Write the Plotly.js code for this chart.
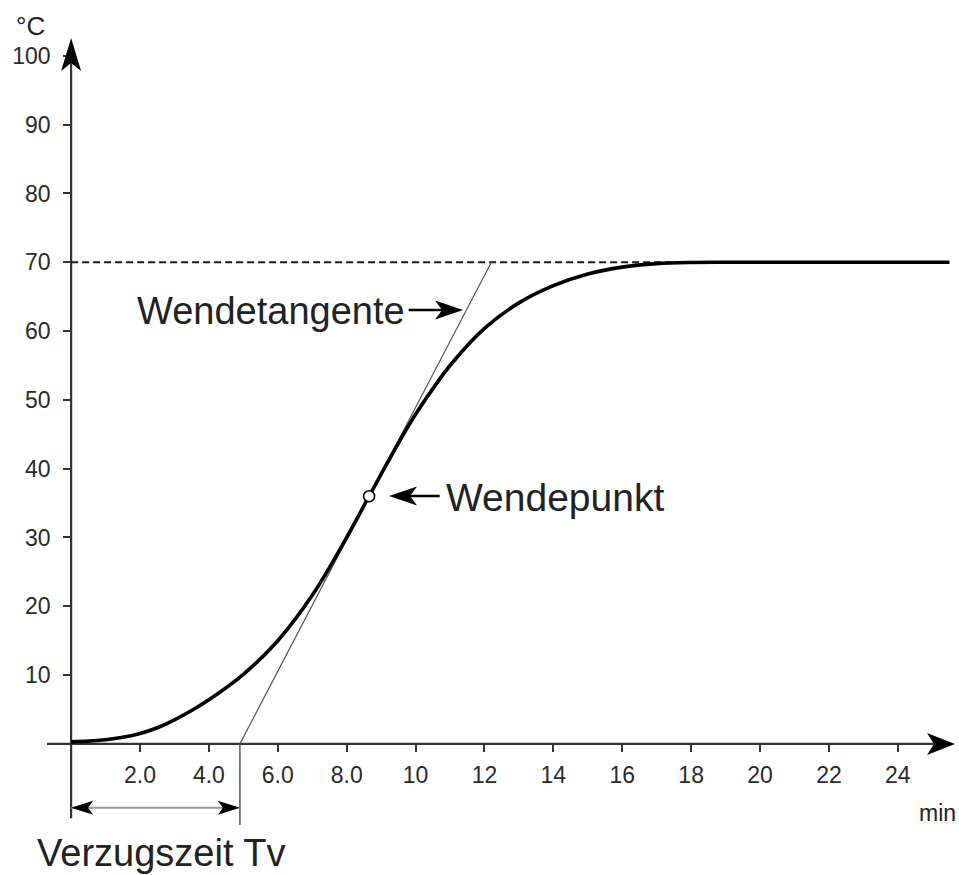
<!DOCTYPE html>
<html>
<head>
<meta charset="utf-8">
<script src="https://cdn.plot.ly/plotly-3.0.1.min.js"></script>
<style>html,body{margin:0;padding:0;background:#fff;}#chart{width:959px;height:875px;}</style>
</head>
<body>
<div id="chart"></div>
<script>
// ---- data ----
var timeMin = [0, 0.5, 1, 1.5, 2, 2.5, 3, 3.5, 4, 5, 6, 7, 8, 8.65, 9, 9.5, 10, 10.5, 11, 12, 13, 14, 15, 16, 17, 18, 19, 20, 22, 24, 25.5];
var tempC   = [0.3, 0.4, 0.6, 0.95, 1.5, 2.35, 3.5, 4.85, 6.4, 10.1, 15.0, 21.6, 30.0, 36.0, 39.2, 43.7, 47.9, 51.6, 55.0, 60.4, 64.1, 66.6, 68.3, 69.3, 69.8, 69.97, 70.0, 70.0, 70.0, 70.0, 70.0];
var setpointX = [0, 25.5];
var setpointY = [70, 70];
var tangentX = [4.9, 12.2];
var tangentY = [0, 70];
var inflX = [8.65];
var inflY = [36.0];
var delayX = [0, 4.9];
var delayY = [-9.3, -9.3];
var tvLineX = [4.9, 4.9];
var tvLineY = [0, -11.8];
var xTickVals = [2, 4, 6, 8, 10, 12, 14, 16, 18, 20, 22, 24];
var xTickText = ["2.0", "4.0", "6.0", "8.0", "10", "12", "14", "16", "18", "20", "22", "24"];
var yTickVals = [10, 20, 30, 40, 50, 60, 70, 80, 90, 100];
var yTickText = ["10", "20", "30", "40", "50", "60", "70", "80", "90", "100"];

// ---- layout geometry ----
var L = 47, T = 38, W = 908, H = 789;
var xRange = [-0.7, 25.66];
var yRange = [-12.08, 102.6];
function pxX(px) { return (px - L) / W; }
function pxY(py) { return (T + H - py) / H; }
var FONT = 'Liberation Sans, Arial, Helvetica, sans-serif';
var INK = '#222';

function head(x, y, dir, len, wid, notch, color) {
  var p;
  var hw = wid / 2;
  if (dir === 'right') p = 'M0,0 L' + (-len) + ',' + hw + ' L' + (-len + notch) + ',0 L' + (-len) + ',' + (-hw) + ' Z';
  else if (dir === 'left') p = 'M0,0 L' + len + ',' + hw + ' L' + (len - notch) + ',0 L' + len + ',' + (-hw) + ' Z';
  else p = 'M0,0 L' + hw + ',' + (-len) + ' L0,' + (-len + notch) + ' L' + (-hw) + ',' + (-len) + ' Z';
  return {type: 'path', xref: 'x', yref: 'y', xsizemode: 'pixel', ysizemode: 'pixel',
          xanchor: x, yanchor: y, path: p, fillcolor: color, line: {width: 0}, layer: 'above'};
}

var traces = [
  {x: setpointX, y: setpointY, mode: 'lines', line: {color: '#1a1a1a', width: 2, dash: '7px,4px'}, hoverinfo: 'skip'},
  {x: tangentX, y: tangentY, mode: 'lines', line: {color: '#555', width: 1.2}, hoverinfo: 'skip'},
  {x: tvLineX, y: tvLineY, mode: 'lines', line: {color: '#555', width: 1.5}, hoverinfo: 'skip'},
  {x: delayX, y: delayY, mode: 'lines', line: {color: '#999', width: 2}, hoverinfo: 'skip'},
  {x: timeMin, y: tempC, mode: 'lines', line: {color: '#000', width: 3.6, shape: 'spline', smoothing: 1}, hoverinfo: 'skip'},
  {x: inflX, y: inflY, mode: 'markers', marker: {symbol: 'circle', size: 11, color: '#fff', line: {color: '#000', width: 1.6}}, hoverinfo: 'skip'}
];

var shapes = [
  {type: 'line', xref: 'x', yref: 'y', x0: xRange[0], x1: 25.3, y0: 0, y1: 0, line: {color: '#333', width: 2.2}, layer: 'below'},
  {type: 'line', xref: 'x', yref: 'y', x0: 0, x1: 0, y0: -10.8, y1: 101, line: {color: '#333', width: 2.2}, layer: 'below'},
  head(xRange[1], 0, 'right', 28, 22, 7, '#000'),
  head(0, yRange[1], 'up', 33, 20, 8, '#000'),
  head(0, -9.3, 'left', 22, 14, 5, '#000'),
  head(4.9, -9.3, 'right', 22, 14, 5, '#000'),
  // label arrows
  {type: 'line', xref: 'x', yref: 'y', x0: 9.8, x1: 11.0, y0: 63.07, y1: 63.07, line: {color: '#000', width: 2.5}},
  head(11.38, 63.07, 'right', 28, 19, 7, '#000'),
  {type: 'line', xref: 'x', yref: 'y', x0: 9.6, x1: 10.7, y0: 36.03, y1: 36.03, line: {color: '#000', width: 2.5}},
  head(9.23, 36.03, 'left', 28, 19, 7, '#000')
];

var annotations = [
  {text: '°C', xref: 'paper', yref: 'paper', x: pxX(30), y: pxY(26), showarrow: false, xanchor: 'center', yanchor: 'middle', font: {family: FONT, size: 26, color: INK}},
  {text: 'min', xref: 'paper', yref: 'paper', x: pxX(937), y: pxY(813), showarrow: false, xanchor: 'center', yanchor: 'middle', font: {family: FONT, size: 23, color: INK}},
  {text: 'Verzugszeit Tv', xref: 'paper', yref: 'paper', x: pxX(161), y: pxY(853), showarrow: false, xanchor: 'center', yanchor: 'middle', font: {family: FONT, size: 38, color: INK}},
  {text: 'Wendetangente', xref: 'paper', yref: 'paper', x: pxX(407), y: pxY(311), showarrow: false, xanchor: 'right', yanchor: 'middle', font: {family: FONT, size: 38, color: INK}},
  {text: 'Wendepunkt', xref: 'paper', yref: 'paper', x: pxX(444), y: pxY(497), showarrow: false, xanchor: 'left', yanchor: 'middle', font: {family: FONT, size: 39, color: INK}}
];

var layout = {
  width: 959, height: 875,
  margin: {l: L, r: 959 - L - W, t: T, b: 875 - T - H, pad: 0},
  paper_bgcolor: '#fff', plot_bgcolor: '#fff',
  showlegend: false,
  font: {family: FONT, color: INK},
  xaxis: {
    range: xRange, anchor: 'free', position: (0 - yRange[0]) / (yRange[1] - yRange[0]),
    showgrid: false, zeroline: false, showline: false,
    ticks: 'outside', ticklen: 7, tickwidth: 2, tickcolor: '#333',
    tickmode: 'array', tickvals: xTickVals, ticktext: xTickText,
    tickfont: {family: FONT, size: 23, color: '#2a2a2a'}, ticklabelstandoff: 4, fixedrange: true
  },
  yaxis: {
    range: yRange, anchor: 'free', position: (0 - xRange[0]) / (xRange[1] - xRange[0]),
    showgrid: false, zeroline: false, showline: false,
    ticks: 'outside', ticklen: 8, tickwidth: 2, tickcolor: '#333',
    tickmode: 'array', tickvals: yTickVals, ticktext: yTickText,
    tickfont: {family: FONT, size: 23, color: '#2a2a2a'}, ticklabelstandoff: 8, fixedrange: true
  },
  shapes: shapes,
  annotations: annotations
};

Plotly.newPlot('chart', traces, layout, {displayModeBar: false, staticPlot: true});
</script>
</body>
</html>
